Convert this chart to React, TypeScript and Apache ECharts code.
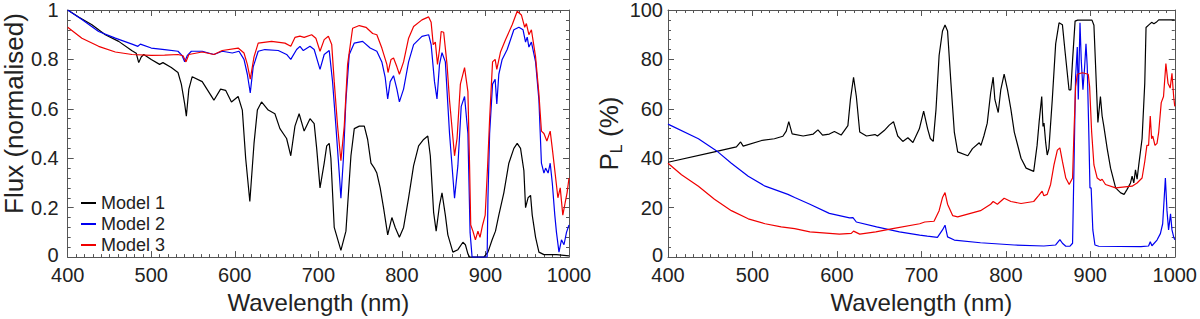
import React, { useEffect, useRef } from "react";
import * as echarts from "echarts";

// ---------- Left panel: normalised flux, [wavelength nm, flux] ----------
const fluxModel1: number[][] = [
  [400, 1.0], [413, 0.972], [429, 0.94], [445, 0.9], [461, 0.873], [477, 0.835], [482, 0.825],
  [485, 0.787], [488, 0.81], [491, 0.82], [500, 0.8], [510, 0.78], [514, 0.787], [524, 0.767],
  [532, 0.747], [536, 0.7], [540, 0.62], [542, 0.57], [545, 0.68], [549, 0.73], [561, 0.71],
  [575, 0.635], [583, 0.68], [589, 0.675], [596, 0.628], [604, 0.65], [609, 0.595], [613, 0.4],
  [618, 0.225], [623, 0.46], [627, 0.595], [632, 0.628], [640, 0.595], [648, 0.58], [654, 0.52],
  [662, 0.48], [667, 0.41], [672, 0.53], [677, 0.58], [683, 0.51], [690, 0.56], [695, 0.54],
  [698, 0.44], [702, 0.28], [707, 0.38], [710, 0.45], [713, 0.46], [715, 0.4], [719, 0.12],
  [727, 0.027], [733, 0.105], [739, 0.41], [743, 0.52], [749, 0.53], [755, 0.53], [759, 0.476],
  [763, 0.38], [767, 0.36], [770, 0.34], [774, 0.28], [778, 0.2], [783, 0.09], [788, 0.16],
  [792, 0.12], [797, 0.08], [802, 0.12], [808, 0.24], [814, 0.37], [820, 0.45], [826, 0.476],
  [831, 0.49], [834, 0.41], [838, 0.18], [841, 0.105], [845, 0.21], [848, 0.26], [852, 0.17],
  [855, 0.09], [861, 0.02], [867, 0.03], [873, 0.06], [876, 0.05], [879, 0.013], [881, 0],
  [898, 0], [903, 0.02], [908, 0.07], [912, 0.105], [916, 0.17], [922, 0.26], [928, 0.38],
  [934, 0.44], [938, 0.46], [942, 0.44], [946, 0.35], [948, 0.2], [951, 0.24], [954, 0.25],
  [956, 0.17], [960, 0.08], [964, 0.02], [970, 0.01], [985, 0.01], [1000, 0.005],
];

const fluxModel2: number[][] = [
  [400, 1.0], [417, 0.962], [437, 0.913], [457, 0.886], [477, 0.862], [484, 0.853], [487, 0.862],
  [500, 0.846], [516, 0.84], [532, 0.833], [537, 0.815], [540, 0.79], [543, 0.815], [548, 0.833],
  [561, 0.833], [575, 0.82], [585, 0.833], [597, 0.826], [605, 0.833], [611, 0.8], [615, 0.74],
  [618.5, 0.664], [622, 0.77], [628, 0.833], [636, 0.84], [652, 0.836], [662, 0.82], [667, 0.8],
  [674, 0.84], [678, 0.853], [682, 0.836], [690, 0.853], [695, 0.84], [702, 0.76], [707, 0.82],
  [713, 0.836], [717, 0.71], [721, 0.53], [725, 0.34], [727, 0.238], [730, 0.4], [733, 0.635],
  [737, 0.82], [743, 0.866], [753, 0.873], [762, 0.846], [770, 0.833], [776, 0.79], [780, 0.727],
  [783, 0.64], [786, 0.71], [790, 0.734], [794, 0.68], [797, 0.628], [802, 0.68], [808, 0.79],
  [814, 0.86], [824, 0.893], [832, 0.9], [835, 0.86], [839, 0.71], [842, 0.64], [845, 0.78],
  [848, 0.827], [852, 0.79], [857, 0.5], [863, 0.238], [867, 0.37], [871, 0.61], [875, 0.65],
  [879, 0.5], [881.6, 0.1], [884, 0], [902, 0], [903, 0.24], [905, 0.5], [908.5, 0.7],
  [911.6, 0.72], [913.6, 0.62], [916, 0.74], [920, 0.8], [926, 0.84], [934, 0.92], [940, 0.93],
  [945, 0.92], [948, 0.87], [950, 0.89], [952, 0.85], [955, 0.87], [960, 0.79], [964, 0.635],
  [967, 0.38], [970, 0.34], [972, 0.36], [975, 0.34], [977.5, 0.38], [980, 0.3], [983, 0.17],
  [985, 0.1], [988, 0.02], [991, 0.07], [994, 0.05], [997, 0.1], [1000, 0.13],
];

const fluxModel3: number[][] = [
  [400, 0.93], [417, 0.886], [437, 0.853], [457, 0.83], [477, 0.82], [500, 0.816], [516, 0.817],
  [532, 0.82], [538, 0.815], [541.6, 0.79], [545, 0.82], [561, 0.83], [575, 0.82], [585, 0.836],
  [604, 0.846], [611, 0.826], [615, 0.78], [618.5, 0.72], [623, 0.81], [628, 0.866], [644, 0.873],
  [660, 0.866], [667, 0.853], [672, 0.889], [678, 0.894], [683, 0.889], [692, 0.9], [697, 0.886],
  [702, 0.833], [707, 0.88], [712, 0.894], [716, 0.86], [719, 0.71], [723, 0.53], [727, 0.39],
  [731, 0.53], [735, 0.78], [741, 0.926], [749, 0.937], [757, 0.93], [765, 0.905], [770, 0.9],
  [776, 0.846], [782, 0.78], [783.4, 0.747], [787, 0.8], [790, 0.806], [794, 0.77], [797, 0.74],
  [802, 0.79], [808, 0.886], [814, 0.933], [824, 0.96], [832, 0.972], [835, 0.95], [837.5, 0.86],
  [840, 0.87], [842.6, 0.78], [845, 0.84], [847, 0.913], [850, 0.91], [854, 0.78], [857, 0.635],
  [863, 0.41], [866, 0.48], [870, 0.7], [875, 0.767], [879, 0.67], [881, 0.37], [882.4, 0.13],
  [885, 0.105], [888, 0.07], [891, 0.105], [893.5, 0.08], [896.6, 0.13], [899.7, 0.17],
  [902.6, 0.37], [905, 0.56], [908.5, 0.79], [911.6, 0.8], [913.6, 0.76], [918, 0.83],
  [924, 0.88], [932, 0.94], [938, 0.995], [943, 0.98], [947, 0.93], [949, 0.945], [952, 0.9],
  [955, 0.92], [960, 0.81], [964, 0.66], [967, 0.51], [970, 0.5], [973.5, 0.47], [977.5, 0.51],
  [980, 0.44], [983.7, 0.33], [986.7, 0.24], [989.5, 0.28], [992.6, 0.17], [995.4, 0.22],
  [997.7, 0.26], [1000, 0.32],
];

// ---------- Right panel: linear polarisation P_L (%), [wavelength nm, %] ----------
const polModel1: number[][] = [
  [400, 38.4], [455, 42.6], [481, 44.6], [486, 46.6], [489, 44.9], [511, 47.2], [526, 47.9],
  [536, 48.9], [540, 51], [543, 54.8], [547, 49.9], [560, 49], [572, 49.8], [577.5, 51.5],
  [583, 49.4], [591, 49.8], [597, 50.8], [605, 49.4], [613, 53.2], [616, 63.8], [619.7, 72.8],
  [623, 65], [627, 50.6], [635, 49], [645, 49.6], [648, 49], [656, 51.2], [662, 53.4], [667, 54.8],
  [672, 49], [678, 46.8], [684, 48.3], [690, 46.4], [697.6, 51.9], [702.7, 59.1], [707.4, 51.9],
  [710.6, 48], [714, 46.8], [717.3, 59.7], [721, 81.6], [725, 91.5], [728, 93.9], [731, 91.5],
  [735, 70.4], [739, 50.6], [743, 42.6], [755, 41], [760.5, 43.9], [768.5, 46.3], [770.5, 45.2],
  [774, 49], [778, 54.2], [782, 66.4], [785, 72.8], [787, 63.8], [791, 58.5], [794, 67.7],
  [798, 74], [802, 67.7], [806, 59.8], [810, 50.6], [818, 40], [824, 36], [833, 34.7],
  [837, 45.2], [839.5, 55], [841.3, 61], [842.5, 65], [844, 52.9], [845.2, 54.2], [847.2, 46.3],
  [849, 41.3], [851, 43.9], [855, 63.8], [859, 86.3], [863, 94.8], [867, 94], [870, 83.6],
  [874.8, 67.7], [877, 67.7], [879, 79.6], [882, 95.5], [885, 95.9], [902, 95.9], [904.3, 93.8],
  [906, 79.6], [909, 54.5], [912, 65], [914, 57.1], [916, 53], [920, 43.9], [924, 36], [930, 28],
  [936, 26], [940, 25.4], [943.6, 27.4], [947.6, 30], [949.5, 32.8], [951.5, 30], [953.5, 35.3],
  [955.4, 31.5], [957.4, 37.3], [961.3, 47.9], [964.5, 70.4], [966, 92.9], [969, 93.9],
  [972.6, 95], [975.3, 94.4], [978, 95], [981, 96], [1000, 96],
];

const polModel2: number[][] = [
  [400, 53.8], [436, 47.9], [459, 42.6], [475, 38], [495, 32.7], [515, 28.7], [542, 25.4],
  [550, 24.1], [568, 21.4], [591, 17.7], [615, 15.9], [619, 16], [623, 14.2], [647, 12.2],
  [674, 10.2], [698, 8.9], [707, 8.5], [719, 8], [725, 11], [728, 12.9], [731, 8.2], [739, 6.9],
  [770, 5.8], [810, 4.9], [845, 4.5], [859, 4.9], [864, 7.1], [867, 5.6], [871, 4.4], [876, 4.4],
  [879, 5.6], [880.7, 37], [882.6, 73], [884.6, 85], [885.8, 63.8], [887.8, 94.8], [889.3, 79.6],
  [891.3, 67.7], [893.3, 77], [894.9, 86.3], [896.4, 77], [898.4, 47.9], [899.6, 28], [901, 28],
  [903, 11], [905.5, 4.9], [910, 4.4], [960, 4.2], [969, 4.5], [971, 6.2], [973, 4.6], [979, 6.9],
  [983, 9.5], [985.7, 13.5], [988.9, 32], [990.8, 18.8], [992.7, 11], [995, 17.5], [996.7, 11],
  [998.7, 8.2], [1000, 7],
];

const polModel3: number[][] = [
  [400, 38], [416, 33.3], [436, 28.7], [455, 23.4], [475, 18.8], [495, 15.5], [515, 13.5],
  [534, 12.2], [550, 11.5], [568, 10.2], [603, 9.3], [617, 9.6], [619.7, 10.5], [627, 9.3],
  [646, 10.2], [666, 11.5], [698, 13.5], [704, 14.2], [715, 14.5], [721, 18.8], [725, 24.1],
  [728, 26.1], [731, 21.4], [737, 16.8], [743, 16.3], [770, 18.8], [782, 21.4], [785, 22.5],
  [790, 21.4], [798, 23.8], [806, 22.5], [818, 21.7], [833, 22.5], [839, 25], [843, 26.7],
  [845, 24.8], [849, 25.4], [853, 29.4], [857, 37.3], [861, 43.3], [864, 44.2], [867, 38.7],
  [871, 32], [875, 29.4], [879, 32], [880.7, 50.6], [882.6, 69], [884.6, 74], [890.6, 74.6],
  [897.6, 74], [899.2, 69], [901.6, 50.6], [904.3, 37.3], [908.2, 32], [912, 31], [914, 31.5],
  [918, 29.4], [930, 28], [949.5, 28.7], [955.4, 30], [961.3, 32], [964.5, 38.7], [967, 45.2],
  [969, 45.2], [971, 57.1], [972.6, 47.9], [974, 49], [976.6, 45.2], [979, 46], [981, 50.6],
  [984, 62.5], [986.7, 65], [989.5, 78.3], [992, 70.4], [994.6, 68.4], [996.7, 74.4],
  [998.7, 65], [1000, 61],
];

const modelNames = ["Model 1", "Model 2", "Model 3"];
const modelColors = ["#000000", "#0000f0", "#f00000"];

const FONT = "'Liberation Sans', Arial, Helvetica, sans-serif";
const TXT = "#222";
const AX = "#555";

function xAx(gridIndex: number, top: boolean) {
  return {
    type: "value",
    gridIndex,
    position: top ? "top" : "bottom",
    min: 400,
    max: 1000,
    interval: 100,
    name: top ? "" : "Wavelength (nm)",
    nameLocation: "middle",
    nameGap: 31,
    nameTextStyle: { fontFamily: FONT, fontSize: 24, color: TXT },
    axisLine: { show: true, onZero: false, lineStyle: { color: AX, width: 1 } },
    axisTick: { show: true, inside: true, length: 6, lineStyle: { color: AX } },
    minorTick: { show: true, splitNumber: 10, length: 3, lineStyle: { color: AX } },
    axisLabel: {
      show: !top,
      margin: 10,
      fontFamily: FONT,
      fontSize: 20,
      lineHeight: 16,
      color: TXT,
      formatter: (v: number) => String(v),
    },
    splitLine: { show: false },
  };
}

function yAx(
  gridIndex: number,
  right: boolean,
  max: number,
  interval: number,
  name: string,
  gap: number,
  pad: number[],
  margin: number
) {
  return {
    type: "value",
    gridIndex,
    position: right ? "right" : "left",
    min: 0,
    max,
    interval,
    name: right ? "" : name,
    nameLocation: "middle",
    nameGap: gap,
    nameTextStyle: {
      fontFamily: FONT,
      fontSize: 26,
      color: TXT,
      padding: pad,
      rich: {
        p: { fontFamily: FONT, fontSize: 26, color: TXT },
        s: { fontFamily: FONT, fontSize: 16, color: TXT, padding: [14, 0, 0, 0] },
      },
    },
    axisLine: { show: true, onZero: false, lineStyle: { color: AX, width: 1 } },
    axisTick: { show: true, inside: true, length: 6, lineStyle: { color: AX } },
    minorTick: { show: true, splitNumber: 5, length: 3, lineStyle: { color: AX } },
    axisLabel: {
      show: !right,
      margin,
      fontFamily: FONT,
      fontSize: 20,
      lineHeight: 16,
      color: TXT,
      formatter: (v: number) => {
        const s = String(parseFloat(v.toFixed(2)));
        return v === 0 ? "{z|" + s + "}" : s;
      },
      rich: {
        z: { fontFamily: FONT, fontSize: 20, lineHeight: 16, color: TXT, padding: [0, 0, 5, 0] },
      },
    },
    splitLine: { show: false },
  };
}

function lineSeries(name: string, color: string, data: number[][], xi: number, yi: number) {
  return {
    type: "line",
    name,
    data,
    xAxisIndex: xi,
    yAxisIndex: yi,
    showSymbol: false,
    symbol: "none",
    smooth: false,
    clip: true,
    color,
    lineStyle: { color, width: 1.2 },
  };
}

export default function App() {
  const ref = useRef<HTMLDivElement>(null);

  useEffect(() => {
    if (!ref.current) return;
    const chart = echarts.init(ref.current, undefined, { renderer: "svg" });
    const fluxSets = [fluxModel1, fluxModel2, fluxModel3];
    const polSets = [polModel1, polModel2, polModel3];
    const option: any = {
      animation: false,
      backgroundColor: "#ffffff",
      textStyle: { fontFamily: FONT },
      grid: [
        { left: 62, right: 631, top: 8, bottom: 59 },
        { left: 668, right: 24, top: 8, bottom: 59 },
      ],
      xAxis: [xAx(0, false), xAx(0, true), xAx(1, false), xAx(1, true)],
      yAxis: [
        yAx(0, false, 1, 0.2, "Flux (normalised)", 34, [0, 0, 0, 40], 9),
        yAx(0, true, 1, 0.2, "", 34, [0, 0, 0, 0], 9),
        yAx(1, false, 100, 20, "{p|P}{s|L}{p| (%)}", 44, [0, 0, 0, 0], 5),
        yAx(1, true, 100, 20, "", 44, [0, 0, 0, 0], 5),
      ],
      legend: {
        orient: "vertical",
        left: 76,
        top: 189,
        itemWidth: 15,
        itemHeight: 2,
        itemGap: 3,
        icon: "rect",
        data: modelNames,
        textStyle: { fontFamily: FONT, fontSize: 18, color: TXT, lineHeight: 18 },
      },
      series: [
        ...modelNames.map((n, i) => lineSeries(n, modelColors[i], fluxSets[i], 0, 0)),
        ...modelNames.map((n, i) => lineSeries(n, modelColors[i], polSets[i], 2, 2)),
      ],
    };
    chart.setOption(option);
    return () => chart.dispose();
  }, []);

  return (
    <div
      ref={ref}
      style={{ position: "fixed", left: 0, top: 0, width: 1200, height: 319, background: "#fff" }}
    />
  );
}
